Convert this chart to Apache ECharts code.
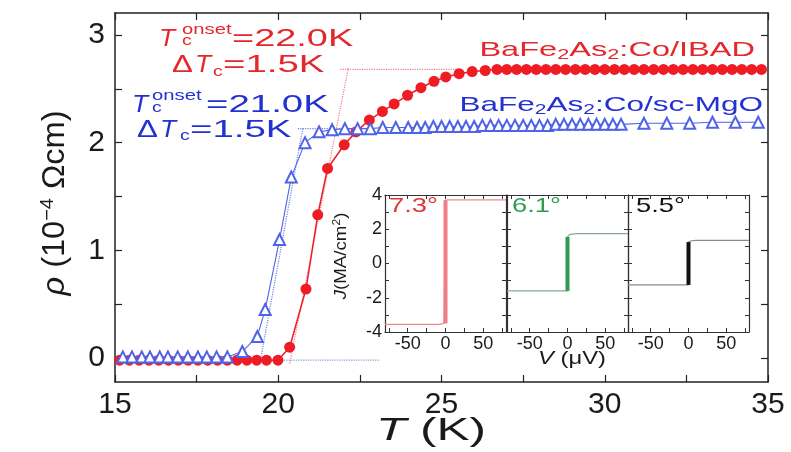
<!DOCTYPE html>
<html>
<head>
<meta charset="utf-8">
<script src="https://cdn.jsdelivr.net/npm/echarts@6/dist/echarts.min.js"></script>
<style>
html, body { margin: 0; padding: 0; background: #fff; }
#chart { width: 791px; height: 452px; }
</style>
</head>
<body>
<div id="chart"></div>
<script>
// ---- main panel: rho(T) ----
const redT = [15.14, 15.44, 15.74, 16.04, 16.34, 16.64, 16.94, 17.24, 17.54, 17.84, 18.14, 18.44, 18.74, 19.04, 19.34, 19.64, 19.99,
  20.35, 20.85, 21.21, 21.51, 22.02, 22.38, 22.79, 23.19, 23.55, 23.96, 24.37, 24.77, 25.13, 25.54, 25.94, 26.34, 26.7,
  27.0, 27.3, 27.6, 27.9, 28.2, 28.5, 28.8, 29.1, 29.4, 29.7, 30.0, 30.3, 30.6, 30.9, 31.2, 31.5, 31.8, 32.1, 32.4, 32.7,
  33.0, 33.3, 33.6, 33.9, 34.2, 34.5, 34.8];
const redRho = [-0.02, -0.02, -0.02, -0.02, -0.02, -0.02, -0.02, -0.02, -0.02, -0.02, -0.02, -0.02, -0.02, -0.02, -0.02, -0.02, -0.02,
  0.10, 0.64, 1.33, 1.76, 1.98, 2.10, 2.21, 2.29, 2.36, 2.44, 2.51, 2.57, 2.61, 2.64, 2.66, 2.67, 2.68,
  2.68, 2.68, 2.68, 2.68, 2.68, 2.68, 2.68, 2.68, 2.68, 2.68, 2.68, 2.68, 2.68, 2.68, 2.68, 2.68, 2.68, 2.68, 2.68, 2.68,
  2.68, 2.68, 2.68, 2.68, 2.68, 2.68, 2.68];
const blueT = [15.24, 15.52, 15.82, 16.07, 16.37, 16.62, 16.92, 17.23, 17.54, 17.81, 18.11, 18.44,
  18.9, 19.36, 19.6, 20.04, 20.4, 20.82, 21.25, 21.65, 22.04, 22.43, 22.82, 23.2, 23.6, 23.98,
  24.25, 24.5, 24.75, 25.0, 25.25, 25.5, 25.75, 26.0, 26.25, 26.5, 26.75, 27.0, 27.25, 27.5, 27.75, 28.0,
  28.25, 28.5, 28.75, 29.0, 29.25, 29.5, 29.75, 30.0, 30.25, 30.5,
  31.2, 31.9, 32.6, 33.3, 34.0, 34.7];
const blueRho = [0.01, 0.01, 0.01, 0.01, 0.01, 0.01, 0.01, 0.01, 0.01, 0.01, 0.01, 0.01,
  0.06, 0.20, 0.45, 1.10, 1.68, 2.00, 2.10, 2.12, 2.13, 2.13, 2.13, 2.14, 2.14, 2.14,
  2.14, 2.14, 2.15, 2.15, 2.15, 2.15, 2.15, 2.15, 2.16, 2.16, 2.16, 2.16, 2.16, 2.16, 2.16, 2.16,
  2.16, 2.17, 2.17, 2.17, 2.17, 2.17, 2.17, 2.17, 2.17, 2.17,
  2.18, 2.18, 2.18, 2.19, 2.19, 2.19];

// onset construction lines
const redTanT = [20.35, 22.15], redTanRho = [-0.05, 2.70];
const redTopT = [21.9, 25.5], redTopRho = [2.68, 2.68];
const blueTanT = [19.45, 20.75], blueTanRho = [-0.03, 2.13];
const blueTopT = [20.6, 22.2], blueTopRho = [2.13, 2.13];
const baseT = [20.1, 23.1], baseRho = [-0.02, -0.02];

const xTicks = [15, 17.5, 20, 22.5, 25, 27.5, 30, 32.5, 35];
const xLabels = [15, 20, 25, 30, 35];
const yTicks = [0, 0.5, 1, 1.5, 2, 2.5, 3];
const yLabels = [0, 1, 2, 3];

// ---- inset: J(V) at three misorientation angles ----
const v73 = [-80, -8, -2, 0, 0, 3, 80], j73 = [-3.55, -3.55, -3.5, -3.5, 3.7, 3.72, 3.72];
const v61 = [-80, 0, 0, 3, 12, 80], j61 = [-1.6, -1.6, 1.55, 1.7, 1.75, 1.75];
const v55 = [-80, 0, 0, 4, 10, 80], j55 = [-1.25, -1.25, 1.25, 1.33, 1.35, 1.35];
const insetXTicks = [-75, -50, -25, 0, 25, 50, 75];
const insetXLabels = [-50, 0, 50];
const insetYTicks = [-4, -3, -2, -1, 0, 1, 2, 3, 4];
const insetYLabels = [-4, -2, 0, 2, 4];

const FONT = '"Liberation Sans", Arial, sans-serif';
const RED = '#ee1c25', RED_TXT = '#e5262b', BLUE = '#4f63e6', BLUE_TXT = '#2330d2';

function pairs(xs, ys) { return xs.map((x, i) => [x, ys[i]]); }

const chart = echarts.init(document.getElementById('chart'));

const frame = { onZero: false, lineStyle: { color: '#222', width: 1.5 } };
const xAxes = [], yAxes = [], series = [];
const grids = [{ left: 115, right: 23, top: 13, bottom: 70 }];

// main axes
['bottom', 'top'].forEach((pos, k) => xAxes.push({
  gridIndex: 0, type: 'value', position: pos, min: 15, max: 35,
  axisLine: frame, splitLine: { show: false },
  axisTick: { inside: true, length: 7, customValues: xTicks, lineStyle: { color: '#222', width: 1.2 } },
  axisLabel: { show: k === 0, customValues: xLabels, fontSize: 30, margin: 8, color: '#1a1a1a', fontFamily: FONT }
}));
['left', 'right'].forEach((pos, k) => yAxes.push({
  gridIndex: 0, type: 'value', position: pos, min: -0.223, max: 3.204,
  axisLine: frame, splitLine: { show: false },
  axisTick: { inside: true, length: 7, customValues: yTicks, lineStyle: { color: '#222', width: 1.2 } },
  axisLabel: { show: k === 0, customValues: yLabels, fontSize: 30, margin: 10, color: '#1a1a1a', fontFamily: FONT }
}));

function dotted(xs, ys, color) {
  return { type: 'line', xAxisIndex: 0, yAxisIndex: 0, data: pairs(xs, ys), showSymbol: false, silent: true,
    lineStyle: { color: color, width: 1.2, type: 'dotted' }, z: 1 };
}
series.push(dotted(redTanT, redTanRho, '#f07a8c'));
series.push(dotted(redTopT, redTopRho, '#f07a8c'));
series.push(dotted(blueTanT, blueTanRho, '#6f7fe6'));
series.push(dotted(blueTopT, blueTopRho, '#6f7fe6'));
series.push(dotted(baseT, baseRho, '#8c9cc4'));
series.push({
  name: 'IBAD', type: 'line', xAxisIndex: 0, yAxisIndex: 0, data: pairs(redT, redRho),
  symbol: 'circle', symbolSize: 11, itemStyle: { color: RED },
  lineStyle: { color: RED, width: 1.5 }, z: 2
});
series.push({
  name: 'sc-MgO', type: 'line', xAxisIndex: 0, yAxisIndex: 0, data: pairs(blueT, blueRho),
  symbol: 'emptyTriangle', symbolSize: 11, itemStyle: { color: BLUE, borderWidth: 1.2 },
  lineStyle: { color: BLUE, width: 1.1 }, z: 3
});

// inset panels
const panels = [
  { left: 385, v: v73, j: j73, thin: '#ef8a90', thick: '#ee7f86' },
  { left: 507, v: v61, j: j61, thin: '#8aa894', thick: '#2f9a50' },
  { left: 628, v: v55, j: j55, thin: '#8a8a8a', thick: '#111111' }
];
panels.forEach((p, i) => {
  const g = i + 1;
  grids.push({ left: p.left, width: 121, top: 195, height: 137, show: true, backgroundColor: '#fff', borderWidth: 0, z: 5 });
  ['bottom', 'top'].forEach((pos, k) => xAxes.push({
    gridIndex: g, type: 'value', position: pos, min: -80, max: 80, z: 6,
    axisLine: { onZero: false, lineStyle: { color: '#333', width: 1.2 } }, splitLine: { show: false },
    axisTick: { inside: true, length: 4, customValues: insetXTicks, lineStyle: { color: '#333' } },
    axisLabel: { show: k === 0, customValues: insetXLabels, fontSize: 18, margin: 3, color: '#1a1a1a', fontFamily: FONT }
  }));
  ['left', 'right'].forEach((pos, k) => yAxes.push({
    gridIndex: g, type: 'value', position: pos, min: -4, max: 4, z: 6,
    axisLine: { onZero: false, lineStyle: { color: '#333', width: 1.2 } }, splitLine: { show: false },
    axisTick: { inside: true, length: 4, customValues: insetYTicks, lineStyle: { color: '#333' } },
    axisLabel: { show: i === 0 && k === 0, customValues: insetYLabels, fontSize: 18, margin: 3, color: '#1a1a1a', fontFamily: FONT }
  }));
  const xi = 2 + i * 2, yi = 2 + i * 2;
  series.push({ type: 'line', xAxisIndex: xi, yAxisIndex: yi, data: pairs(p.v, p.j), showSymbol: false,
    lineStyle: { color: p.thin, width: 1.2 }, z: 7 });
  // thick vertical jump at V = 0
  const jz = p.v.map((v, k) => (v === 0 ? p.j[k] : null)).filter(x => x !== null);
  series.push({ type: 'line', xAxisIndex: xi, yAxisIndex: yi, data: jz.map(y => [0, y]), showSymbol: false,
    lineStyle: { color: p.thick, width: 4 }, z: 8 });
});

function txt(x, y, text, size, color, sx, extra) {
  const style = Object.assign({ text: text, fontSize: size, fill: color, fontFamily: FONT }, (extra && extra.style) || {});
  const el = { type: 'text', x: x, y: y, scaleX: sx, z: 100, style: style };
  if (extra) { Object.keys(extra).forEach(k => { if (k !== 'style') el[k] = extra[k]; }); }
  return el;
}
const it = { style: { fontStyle: 'italic' } };
const sub2 = { s: { fontSize: 14, verticalAlign: 'bottom', padding: [10, 0, 0, 0] } };

const graphics = [
  // red onset annotation
  txt(159, 27, 'T', 24, RED_TXT, 1.1, it),
  txt(182, 22, 'onset', 15, RED_TXT, 1.35),
  txt(182, 33, 'c', 15, RED_TXT, 1.3),
  txt(232, 27, '=22.0K', 24, RED_TXT, 1.58),
  txt(172, 53, 'Δ', 24, RED_TXT, 1.3),
  txt(195, 53, 'T', 24, RED_TXT, 1.1, it),
  txt(213, 64, 'c', 15, RED_TXT, 1.3),
  txt(223, 53, '=1.5K', 24, RED_TXT, 1.6),
  // blue onset annotation
  txt(132, 93, 'T', 24, BLUE_TXT, 1.1, it),
  txt(152, 88, 'onset', 15, BLUE_TXT, 1.35),
  txt(152, 100, 'c', 15, BLUE_TXT, 1.3),
  txt(206, 93, '=21.0K', 24, BLUE_TXT, 1.6),
  txt(137, 118, 'Δ', 24, BLUE_TXT, 1.3),
  txt(160, 118, 'T', 24, BLUE_TXT, 1.1, it),
  txt(180, 128, 'c', 15, BLUE_TXT, 1.3),
  txt(190, 118, '=1.5K', 24, BLUE_TXT, 1.6),
  // sample labels
  txt(755, 38, 'BaFe{s|2}As{s|2}:Co/IBAD', 21, RED_TXT, 1.55, { style: { align: 'right', rich: sub2 } }),
  txt(763, 93, 'BaFe{s|2}As{s|2}:Co/sc-MgO', 21, BLUE_TXT, 1.5, { style: { align: 'right', rich: sub2 } }),
  // inset angle labels
  txt(389, 196, '7.3°', 21, '#e0363a', 1.3),
  txt(512, 196, '6.1°', 21, '#2f9a50', 1.3),
  txt(636, 196, '5.5°', 21, '#111', 1.3),
  // inset axis names
  txt(572, 349, '{i|V} (μV)', 19, '#1a1a1a', 1.25, { style: { align: 'center', rich: { i: { fontStyle: 'italic', fontSize: 19 } } } }),
  txt(341, 256, '{i|J}(MA/cm{p|2})', 17, '#1a1a1a', 1.1, { rotation: Math.PI / 2,
    style: { align: 'center', verticalAlign: 'middle', rich: { i: { fontStyle: 'italic', fontSize: 17 }, p: { fontSize: 11, verticalAlign: 'top', padding: [0, 0, 8, 0] } } } }),
  // main axis names
  txt(431, 415, '{i|T} (K)', 32, '#1a1a1a', 1.55, { style: { align: 'center', rich: { i: { fontStyle: 'italic', fontSize: 32 } } } }),
  txt(55, 203, '{i|ρ} (10{p|−4} Ωcm)', 31, '#1a1a1a', 1.05, { rotation: Math.PI / 2,
    style: { align: 'center', verticalAlign: 'middle', rich: { i: { fontStyle: 'italic', fontSize: 31 }, p: { fontSize: 19, verticalAlign: 'top', padding: [0, 0, 14, 0] } } } })
];

chart.setOption({
  animation: false,
  backgroundColor: '#fff',
  grid: grids,
  xAxis: xAxes,
  yAxis: yAxes,
  series: series,
  graphic: graphics
});
</script>
</body>
</html>
